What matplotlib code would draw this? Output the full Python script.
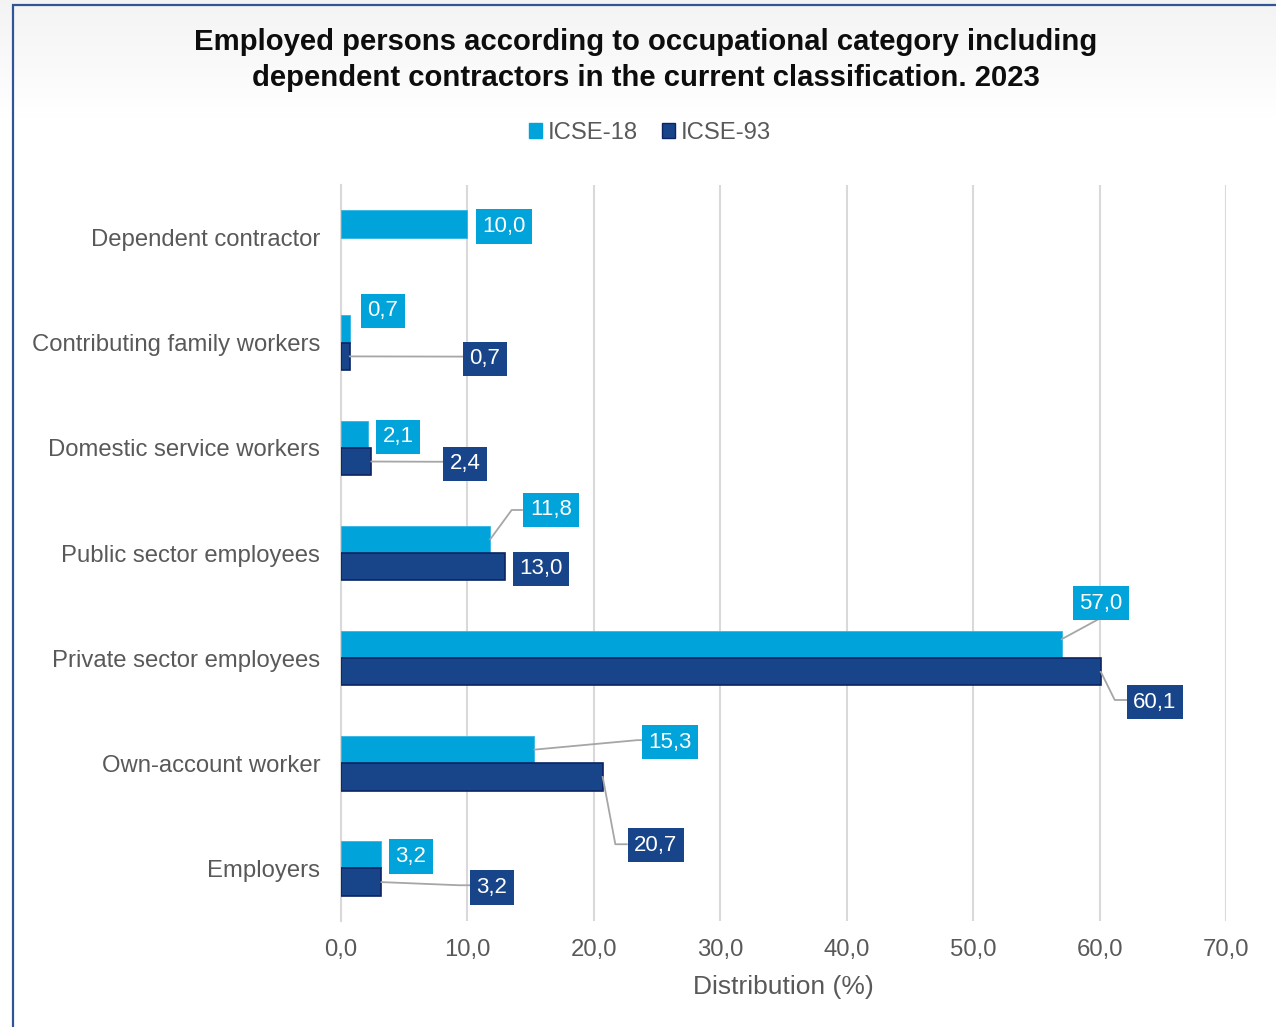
import numpy as np
import matplotlib.pyplot as plt
from matplotlib.patches import Patch, Rectangle

plt.rcParams['font.family'] = ['Liberation Sans', 'DejaVu Sans']

categories = ["Dependent contractor", "Contributing family workers", "Domestic service workers",
              "Public sector employees", "Private sector employees", "Own-account worker", "Employers"]
icse18 = [10.0, 0.7, 2.1, 11.8, 57.0, 15.3, 3.2]
icse93 = [None, 0.7, 2.4, 13.0, 60.1, 20.7, 3.2]
xticks = [0, 10, 20, 30, 40, 50, 60, 70]

# label box centres (data units) and whether a leader line is drawn
lab18_pos = [(12.9, -0.105), (3.32, 0.696), (4.51, 1.895), (16.61, 2.591),
             (60.11, 3.477), (26.02, 4.80), (5.54, 5.886)]
lab18_line = [False, False, False, True, True, True, False]
lab93_pos = [None, (11.39, 1.152), (9.81, 2.152), (15.82, 3.152),
             (64.38, 4.418), (24.91, 5.78), (11.94, 6.18)]
lab93_line = [False, True, True, False, True, True, True]

c18 = '#00a3da'
c93 = '#184489'
txt = '#595959'

fig = plt.figure(figsize=(12.76, 10.27), dpi=100)

# background gradient + border
bg = fig.add_axes([0, 0, 1, 1], zorder=-10)
grad = np.linspace(0, 1, 200)[:, None]
grad = np.clip(grad * 9, 0, 1)
cols = np.ones((200, 1, 3))
cols[:, 0, :] = (0.955 + 0.045 * grad)
bg.imshow(cols, aspect='auto', extent=[0, 1, 0, 1])
bg.set_xlim(0, 1)
bg.set_ylim(0, 1)
bg.axis('off')
fig.patches.append(Rectangle((13 / 1276, -0.2), 1.5, 1.2 - 5 / 1027, transform=fig.transFigure,
                             fill=False, edgecolor='#2f5597', lw=1.6))

ax = fig.add_axes([341 / 1276, 1 - 921 / 1027, (1226 - 341) / 1276, (921 - 185) / 1027])
ax.set_facecolor('none')

y = np.arange(len(categories))
h = 0.26
ax.barh(y - h / 2, icse18, height=h, color=c18, edgecolor='#33b5e5', lw=0.6, zorder=3)
v93 = [v if v is not None else 0 for v in icse93]
ax.barh(y + h / 2, v93, height=h, color=c93, edgecolor='#0b2463', lw=1.2, zorder=3)
# hide the missing bar
for i, v in enumerate(icse93):
    if v is None:
        ax.patches[len(categories) + i].set_visible(False)

def fmt(v):
    return f"{v:.1f}".replace('.', ',')

def label(val, yc, pos, line, color):
    tx, ty = pos
    ax.annotate(fmt(val), xy=(val, yc), xytext=(tx, ty), textcoords='data',
                ha='center', va='center', color='white', fontsize=16, zorder=6,
                bbox=dict(boxstyle='square,pad=0.3', fc=color, ec='none'))
    if line:
        if abs(val - 57.0) < 0.01:
            ax.plot([val, tx], [yc - 0.05, ty + 0.14], color='#a6a6a6', lw=1.3, zorder=5)
        elif abs(val - 60.1) < 0.01:
            ax.plot([val, val + 1.1, tx - 2.2], [yc, ty - 0.02, ty - 0.02], color='#a6a6a6', lw=1.3, zorder=5)
        elif abs(val - 20.7) < 0.01:
            ax.plot([val, val + 1.0, tx - 2.3], [yc, ty - 0.01, ty - 0.01], color='#a6a6a6', lw=1.3, zorder=5)
        elif abs(val - 11.8) < 0.01:
            ax.plot([val, val + 1.7, tx - 2.3], [yc, ty, ty], color='#a6a6a6', lw=1.3, zorder=5)
        else:
            ax.plot([val, tx - 2.6, tx - 1.8], [yc, ty - 0.02, ty - 0.02], color='#a6a6a6', lw=1.3, zorder=5)

for i in range(len(categories)):
    label(icse18[i], i - h / 2, lab18_pos[i], lab18_line[i], c18)
    if icse93[i] is not None:
        label(icse93[i], i + h / 2, lab93_pos[i], lab93_line[i], c93)

ax.set_xlim(0, 70)
ax.set_ylim(len(categories) - 0.5, -0.5)
ax.set_xticks(xticks)
ax.set_xticklabels([fmt(t) for t in xticks], fontsize=17.2, color=txt)
ax.set_yticks(y)
ax.set_yticklabels(categories, fontsize=17.2, color=txt)
ax.tick_params(axis='both', length=0)
ax.tick_params(axis='y', pad=15)
ax.tick_params(axis='x', pad=13)
ax.grid(axis='x', color='#d9d9d9', lw=1.5, zorder=0)
for s in ['top', 'right', 'bottom']:
    ax.spines[s].set_visible(False)
ax.spines['left'].set_color('#d9d9d9')
ax.spines['left'].set_linewidth(1.5)
ax.set_xlabel("Distribution (%)", fontsize=19, color=txt, labelpad=10)

fig.text(0.506, 1 - 60 / 1027, "Employed persons according to occupational category including\n"
         "dependent contractors in the current classification. 2023",
         ha='center', va='center', fontsize=21.1, fontweight='bold', color='#0d0d0d', linespacing=1.32)

handles = [Patch(color=c18, label='ICSE-18'), Patch(facecolor=c93, edgecolor='#0b2463', label='ICSE-93')]
fig.legend(handles=handles, loc='center', bbox_to_anchor=(650 / 1276, 1 - 133 / 1027), ncol=2,
           frameon=False, fontsize=17.2, handlelength=0.55, handleheight=0.55,
           handletextpad=0.25, columnspacing=1.0, labelcolor=txt)

fig.savefig('out.png', dpi=100)
